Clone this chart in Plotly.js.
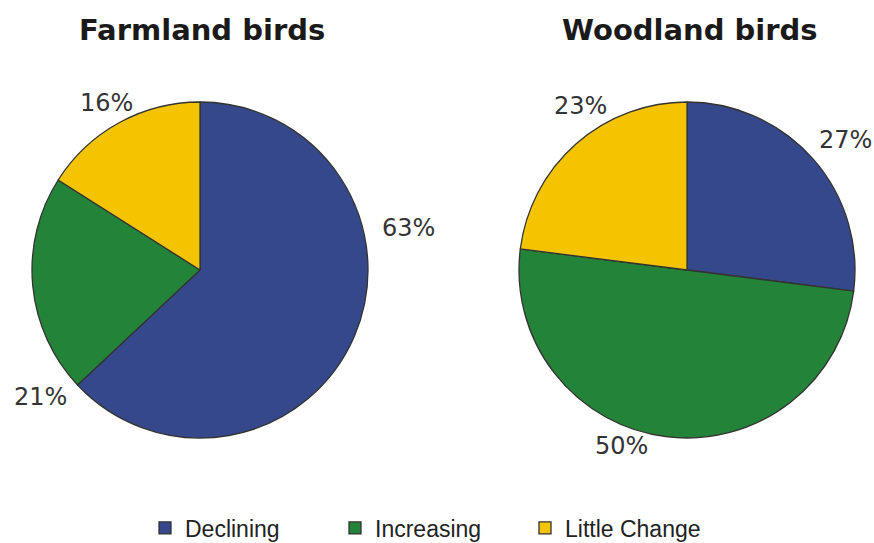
<!DOCTYPE html>
<html><head><meta charset="utf-8">
<script src="https://cdn.plot.ly/plotly-3.0.1.min.js"></script>
<style>body{margin:0;background:#fff}#chart{width:874px;height:543px}</style>
</head><body><div id="chart"></div>
<script>
const categories = ["Declining", "Increasing", "Little Change"];
const farmland = [63, 21, 16];
const woodland = [27, 50, 23];
const titles = ["Farmland birds", "Woodland birds"];
const colors = ["#36488C", "#238439", "#F5C400"];
// label anchor positions (paper pixels from top-left), one per slice
const farmLabelPos = [[408, 228], [40, 397], [106, 103]];
const woodLabelPos = [[845, 140], [621, 446], [580, 106]];

const W = 874, H = 543;
function pie(values, dom, name) {
  return {
    type: "pie", name: name, labels: categories, values: values, sort: false,
    direction: "clockwise", rotation: 0,
    marker: {colors: colors, line: {color: "#333", width: 1.3}},
    textinfo: "none", textposition: "none",
    hoverinfo: "label+percent",
    domain: dom
  };
}
function labels(values, pos) {
  return values.map((v, i) => ({
    text: v + "%", x: pos[i][0] / W, y: 1 - pos[i][1] / H, xref: "paper", yref: "paper",
    xanchor: "center", yanchor: "middle", showarrow: false,
    font: {family: "DejaVu Sans", size: 24, color: "#333"}
  }));
}
const data = [
  pie(farmland, {x: [(200 - 168) / W, (200 + 168) / W], y: [1 - 438 / H, 1 - 102 / H]}, titles[0]),
  pie(woodland, {x: [(687 - 168) / W, (687 + 168) / W], y: [1 - 438 / H, 1 - 102 / H]}, titles[1])
];
const layout = {
  width: W, height: H, margin: {l: 0, r: 0, t: 0, b: 0, autoexpand: false},
  paper_bgcolor: "#fff",
  showlegend: true,
  legend: {orientation: "h", x: 0.5 - 7 / W, xanchor: "center", y: 1 - 528 / H, yanchor: "middle",
    font: {family: "Liberation Sans", size: 23, color: "#222"}, traceorder: "normal",
    entrywidth: 145, entrywidthmode: "pixels", itemwidth: 30},
  annotations: [
    {text: "<b>" + titles[0] + "</b>", x: 202/W, y: 1 - 30/H, xref: "paper", yref: "paper", showarrow: false,
     xanchor: "center", yanchor: "middle",
     font: {family: "DejaVu Sans", size: 29, color: "#1a1a1a"}},
    {text: "<b>" + titles[1] + "</b>", x: 690/W, y: 1 - 30/H, xref: "paper", yref: "paper", showarrow: false,
     xanchor: "center", yanchor: "middle",
     font: {family: "DejaVu Sans", size: 29, color: "#1a1a1a"}}
  ].concat(labels(farmland, farmLabelPos), labels(woodland, woodLabelPos))
};
Plotly.newPlot("chart", data, layout, {displayModeBar: false});
</script></body></html>
